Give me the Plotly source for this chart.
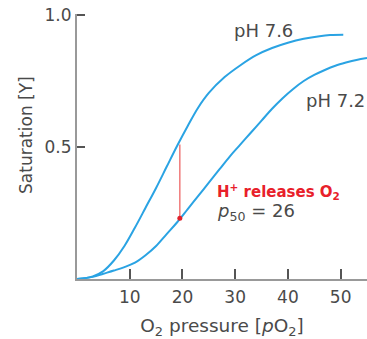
import plotly.graph_objects as go

# pH 7.6 curve
po2_76 = [0, 3, 5, 7, 9, 11, 13, 15, 17, 19, 21, 23, 25, 28, 31, 34, 37, 40, 43, 46, 48, 50.5]
sat_76 = [0, 0.01, 0.03, 0.07, 0.125, 0.195, 0.27, 0.345, 0.425, 0.505, 0.58, 0.65, 0.705, 0.765, 0.81,
          0.848, 0.875, 0.895, 0.91, 0.92, 0.924, 0.925]

# pH 7.2 curve
po2_72 = [0, 3, 5, 7, 9, 11, 13, 15, 17, 19, 21, 23, 25, 27, 29, 31, 33, 35, 37, 39, 41, 43, 45, 47, 49, 51, 53, 55]
sat_72 = [0, 0.008, 0.02, 0.032, 0.045, 0.062, 0.09, 0.125, 0.17, 0.215, 0.265, 0.315, 0.365, 0.415, 0.465,
          0.51, 0.555, 0.6, 0.645, 0.685, 0.72, 0.75, 0.773, 0.792, 0.808, 0.82, 0.83, 0.837]

# H+ shift marker
shift_x = [19.5, 19.5]
shift_y = [0.51, 0.23]

x_ticks = [10, 20, 30, 40, 50]
y_ticks = [0.5, 1.0]
y_tick_labels = ["0.5", "1.0"]

blue = "#2aa3e3"
grey = "#4a4a4a"
font = "DejaVu Sans, Liberation Sans, Arial, sans-serif"

fig = go.Figure()
fig.add_trace(go.Scatter(x=po2_76, y=sat_76, mode="lines", line=dict(color=blue, width=2, shape="spline"),
                         showlegend=False, cliponaxis=False))
fig.add_trace(go.Scatter(x=po2_72, y=sat_72, mode="lines", line=dict(color=blue, width=2, shape="spline"),
                         showlegend=False, cliponaxis=False))
fig.add_trace(go.Scatter(x=shift_x, y=shift_y, mode="lines", line=dict(color="#f07a7a", width=1.5), showlegend=False))
fig.add_trace(go.Scatter(x=[shift_x[1]], y=[shift_y[1]], mode="markers", marker=dict(color="#e0202a", size=5),
                         showlegend=False))

fig.add_annotation(x=35.3, y=0.943, text="pH 7.6", showarrow=False, font=dict(size=18, color=grey, family=font))
fig.add_annotation(x=55, y=0.678, text="pH 7.2", showarrow=False, xanchor="right",
                   font=dict(size=18, color=grey, family=font))
fig.add_annotation(x=26.2, y=0.33, text="<b>H<sup>+</sup> releases O<sub>2</sub></b>", showarrow=False,
                   xanchor="left", font=dict(size=15, color="#e8202a", family=font))
fig.add_annotation(x=26.2, y=0.255, text="<i>p</i><sub>50</sub> = 26", showarrow=False, xanchor="left",
                   font=dict(size=18, color=grey, family=font))

fig.add_annotation(xref="paper", yref="paper", x=-0.178, y=0.545, text="Saturation [Y]", textangle=-90,
                   xanchor="center", yanchor="middle",
                   showarrow=False, font=dict(size=17, color=grey, family=font))

fig.update_layout(
    width=367, height=339,
    margin=dict(l=77, r=0, t=14, b=60, autoexpand=False),
    plot_bgcolor="white", paper_bgcolor="white",
    font=dict(family=font, size=17, color=grey),
    xaxis=dict(range=[0, 55], tickvals=x_ticks, ticks="inside", ticklen=10, tickwidth=1.5, tickcolor="#555",
               ticklabelstandoff=2,
               showline=True, linecolor="#999", linewidth=2, showgrid=False, zeroline=False,
               title=dict(text="O<sub>2</sub> pressure [<i>p</i>O<sub>2</sub>]", standoff=25,
                          font=dict(size=18.5, color=grey))),
    yaxis=dict(range=[0, 1.004], tickvals=y_ticks, ticktext=y_tick_labels, ticks="inside", ticklen=8, tickwidth=1.5,
               ticklabeloverflow="allow",
               tickcolor="#555", showline=True, linecolor="#999", linewidth=2, showgrid=False, zeroline=False),
)

fig.write_html("out.html", config={"displayModeBar": False},
               post_script="document.body.style.margin='0';document.body.style.overflow='hidden';")
